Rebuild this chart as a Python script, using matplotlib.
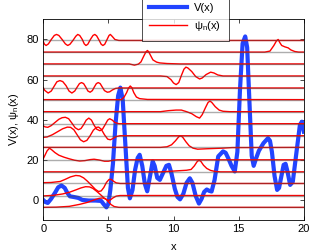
import matplotlib
matplotlib.use('Agg')
import matplotlib.pyplot as plt

plt.rcParams['font.family'] = ['Liberation Sans', 'DejaVu Sans']
plt.rcParams['mathtext.default'] = 'regular'

# potential V(x), points
vx = [0.0, 0.15, 0.35, 0.6, 0.9, 1.15, 1.4, 1.65, 1.85, 2.05, 2.4, 2.7, 3.0, 3.5, 4.0, 4.45, 4.65, 4.85, 5.0,
      5.15, 5.35, 5.55, 5.75, 5.92, 6.1, 6.3, 6.5, 6.65, 6.85, 7.05, 7.25, 7.4, 7.6, 7.8, 7.98,
      8.2, 8.4, 8.55, 8.75, 8.95, 9.2, 9.45, 9.65, 9.85, 10.1, 10.3, 10.5, 10.75, 11.0, 11.25, 11.45,
      11.7, 11.95, 12.15, 12.35, 12.55, 12.75, 12.92, 13.15, 13.43, 13.8, 14.0, 14.2, 14.45, 14.7,
      14.9, 15.1, 15.3, 15.5, 15.65, 15.85, 16.0, 16.15, 16.35, 16.55, 16.9, 17.25, 17.4, 17.55,
      17.75, 17.95, 18.1, 18.25, 18.45, 18.6, 18.75, 18.95, 19.15, 19.4, 19.7, 19.85, 20.0]
vy = [0.0, -1.0, -1.5, 0.5, 3.5, 6.3, 7.2, 6.0, 3.5, 1.8, 1.4, 1.0, 0.0, -0.3, -0.3, -0.5, -2.2, -3.7, -2.0,
      5, 18, 38, 52, 56, 50, 28, 6, 0.8, 5, 15, 21, 22.5, 17, 8, 4.3,
      12, 19.2, 17, 11, 10, 13.5, 17, 17.5, 13, 5.5, 1.5, 0.3, 3, 8.5, 10.8, 8.5,
      2, -1.8, 0.5, 4, 5.2, 4.5, 4.2, 10, 21.7, 24.2, 23.5, 20.8, 17, 14.2,
      24, 55, 78, 81.5, 76, 45, 22, 17, 21, 24.5, 28.3, 30.8, 29.5, 24,
      12, 5, 6, 11, 17.5, 18, 14, 7.5, 9, 22, 37.5, 39, 34]

# energy levels
levels = [-3.7, 2.2, 8.2, 14.0, 20.0, 26.2, 32.0, 38.0, 44.0, 50.0, 55.8, 61.8, 67.8, 73.7, 79.5]

# shifted wavefunctions E_n + psi_n(x), one list pair per level
psi_x = [
    [0, 1.0, 2.0, 2.8, 3.4, 3.9, 4.3, 4.55, 4.8, 5.0, 5.2, 5.45, 5.8, 20],
    [0, 0.8, 1.5, 2.0, 2.5, 2.9, 3.25, 3.55, 3.8, 4.1, 4.4, 4.7, 4.95, 5.15, 5.35, 5.6, 5.9, 20],
    [0, 0.6, 1.3, 1.7, 2.1, 2.5, 2.8, 3.1, 3.4, 3.7, 4.0, 4.25, 4.45, 4.65, 4.85, 5.05, 5.2, 5.4,
     5.6, 5.9, 20],
    [0, 9.0, 9.8, 10.5, 11.0, 11.35, 11.6, 11.8, 11.95, 12.1, 12.3, 12.55, 12.85, 13.2, 13.6, 20],
    [0, 0.15, 0.3, 0.48, 0.65, 0.9, 1.2, 1.6, 2.0, 2.4, 2.8, 3.2, 3.6, 3.9, 4.3, 4.7, 5.0, 5.35,
     5.7, 20],
    [0, 9.0, 9.5, 9.85, 10.15, 10.4, 10.55, 10.7, 10.95, 11.2, 11.5, 11.85, 12.5, 13.7, 14.5, 20],
    [0, 0.3, 0.7, 1.1, 1.5, 1.85, 2.1, 2.35, 2.6, 2.85, 3.1, 3.35, 3.6, 3.85, 4.1, 4.25, 4.45,
     4.7, 4.95, 5.15, 5.35, 5.6, 5.9, 20],
    [0, 0.15, 0.35, 0.6, 0.9, 1.2, 1.45, 1.7, 1.95, 2.2, 2.45, 2.7, 2.9, 3.1, 3.3, 3.5, 3.7, 3.9,
     4.1, 4.35, 4.55, 4.75, 4.95, 5.1, 5.3, 5.5, 5.8, 20],
    [0, 9.0, 9.6, 10.2, 10.6, 11.0, 11.4, 11.75, 12.0, 12.2, 12.45, 12.65, 12.8, 12.95, 13.2,
     13.5, 13.8, 14.3, 20],
    [0, 6.0, 6.2, 6.4, 6.55, 6.68, 6.8, 6.95, 7.15, 7.4, 8.0, 20],
    [0, 0.12, 0.38, 0.62, 0.85, 1.05, 1.28, 1.5, 1.75, 1.98, 2.2, 2.42, 2.6, 2.78, 2.94, 3.1,
     3.27, 3.43, 3.6, 3.77, 3.93, 4.08, 4.22, 4.37, 4.53, 4.7, 4.92, 5.1, 5.3, 5.55, 5.8, 20],
    [0, 9.0, 9.5, 9.8, 10.0, 10.2, 10.4, 10.6, 10.8, 10.95, 11.1, 11.4, 11.7, 12.0, 12.2, 12.5,
     12.85, 13.1, 13.4, 13.8, 20],
    [0, 6.6, 7.0, 7.3, 7.5, 7.7, 7.88, 8.0, 8.1, 8.2, 8.42, 8.7, 8.95, 9.5, 10.5, 20],
    [0, 17.0, 17.4, 17.7, 17.9, 18.03, 18.15, 18.3, 18.55, 18.8, 19.0, 19.3, 19.6, 20],
    [0, 0.1, 0.22, 0.4, 0.62, 0.85, 1.02, 1.2, 1.45, 1.7, 1.88, 2.05, 2.28, 2.5, 2.65, 2.8, 3.0,
     3.15, 3.28, 3.42, 3.62, 3.82, 3.96, 4.1, 4.3, 4.45, 4.58, 4.72, 4.9, 5.05, 5.15, 5.3, 5.5,
     5.8, 20],
]
psi_y = [
    [-3.7, -3.6, -3.2, -2.2, -1.2, 0.0, 0.8, 1.0, 0.5, -0.8, -2.3, -3.3, -3.7, -3.7],
    [2.0, 2.3, 3.0, 3.8, 5.0, 6.0, 6.6, 6.5, 5.8, 4.3, 2.6, 0.8, -0.2, 0.0, 1.0, 1.9, 2.2, 2.2],
    [8.6, 8.7, 9.2, 10.3, 11.5, 12.2, 12.0, 11.0, 9.3, 7.3, 5.3, 4.2, 4.5, 6.2, 8.7, 10.2, 10.3,
     9.3, 8.5, 8.2, 8.2],
    [14.0, 14.0, 14.3, 14.6, 14.8, 15.2, 17.0, 19.0, 19.8, 19.2, 17.3, 15.7, 14.7, 14.2, 14.0, 14.0],
    [20.5, 22.5, 24.5, 25.8, 25.0, 23.6, 22.3, 21.3, 20.5, 19.8, 19.4, 19.6, 20.1, 20.3, 19.9,
     19.3, 19.3, 19.8, 20.0, 20.0],
    [26.2, 26.2, 26.5, 27.5, 29.5, 31.5, 32.0, 31.3, 29.0, 27.0, 25.8, 25.3, 25.5, 25.8, 26.1, 26.2],
    [31.2, 31.4, 32.5, 34.0, 35.5, 36.3, 36.2, 35.0, 32.5, 30.0, 29.0, 29.7, 32.0, 34.8, 36.2,
     36.3, 35.3, 32.5, 30.3, 30.0, 30.6, 31.6, 32.0, 32.0],
    [36.9, 36.4, 36.2, 37.0, 38.6, 40.2, 41.0, 41.2, 40.5, 38.3, 36.0, 35.0, 35.6, 37.5, 39.8,
     40.8, 39.8, 37.3, 35.3, 34.5, 35.3, 37.5, 39.8, 40.5, 39.8, 38.6, 38.0, 38.0],
    [44.0, 44.0, 44.5, 44.8, 44.8, 44.0, 43.0, 41.5, 40.8, 42.5, 46.0, 48.6, 49.3, 48.5, 46.5,
     44.8, 44.2, 44.0, 44.0],
    [50.0, 50.0, 51.2, 53.5, 55.8, 56.8, 56.0, 53.5, 51.3, 50.5, 50.1, 50.0],
    [56.0, 54.6, 53.3, 54.3, 56.8, 58.9, 59.5, 59.0, 57.0, 54.3, 53.3, 54.3, 56.2, 58.0, 58.5,
     58.0, 56.2, 54.3, 53.7, 54.5, 56.4, 58.0, 58.5, 58.0, 56.3, 54.5, 53.7, 53.9, 54.8, 55.6,
     55.8, 55.8],
    [61.8, 61.8, 61.5, 60.0, 58.3, 57.5, 58.5, 62.0, 65.2, 66.2, 65.8, 64.0, 61.5, 60.3, 60.8,
     62.5, 63.7, 63.3, 62.3, 61.8, 61.8],
    [67.8, 67.8, 67.2, 67.7, 68.8, 71.5, 73.8, 74.5, 73.8, 72.5, 69.8, 68.7, 68.3, 68.0, 67.8, 67.8],
    [73.7, 73.7, 74.2, 77.0, 79.3, 80.0, 78.5, 77.0, 76.3, 75.8, 74.8, 74.0, 73.7, 73.7],
    [79.0, 77.6, 77.0, 77.8, 80.0, 82.0, 82.5, 82.0, 80.0, 77.8, 77.0, 77.6, 79.5, 81.6, 82.5,
     82.0, 80.0, 77.8, 77.0, 77.6, 80.0, 82.0, 82.5, 81.8, 79.5, 77.6, 77.0, 77.6, 80.0, 82.0,
     82.5, 81.5, 80.0, 79.5, 79.5],
]

fig = plt.figure(figsize=(3.35, 2.52), dpi=100)
ax = fig.add_axes([0.129, 0.127, 0.778, 0.796])

hv, = ax.plot(vx, vy, color='#2244ff', lw=3.0, label='V(x)')
for i, e in enumerate(levels):
    hp, = ax.plot(psi_x[i], psi_y[i], color='red', lw=1.0, label=r'ψ$_n$(x)')
    # level line drawn over the wavefunction, half transparent
    ax.plot([0, 20], [e, e], color='#4a4a4a', lw=1.0, alpha=0.45)

ax.set_xlim(0, 20)
ax.set_ylim(-10, 90)
ax.set_xticks([0, 5, 10, 15, 20])
ax.set_yticks([0, 20, 40, 60, 80])
ax.tick_params(direction='in', top=True, right=True, length=3, width=0.5, labelsize=8, pad=3)
for s in ax.spines.values():
    s.set_linewidth(0.6)
ax.set_xlabel('x', fontsize=8, labelpad=6)
ax.set_ylabel(r'V(x), ψ$_n$(x)', fontsize=8, labelpad=4)

leg = fig.legend([hv, hp], ['V(x)', r'ψ$_n$(x)'], loc='lower left',
                 bbox_to_anchor=(0.423, 0.837), bbox_transform=fig.transFigure,
                 fontsize=8, frameon=True, fancybox=False, borderpad=0.7,
                 handlelength=3.4, handletextpad=0.6, labelspacing=0.6, borderaxespad=0)
leg.get_frame().set_edgecolor('black')
leg.get_frame().set_linewidth(0.6)

fig.savefig('out.png', dpi=100)
